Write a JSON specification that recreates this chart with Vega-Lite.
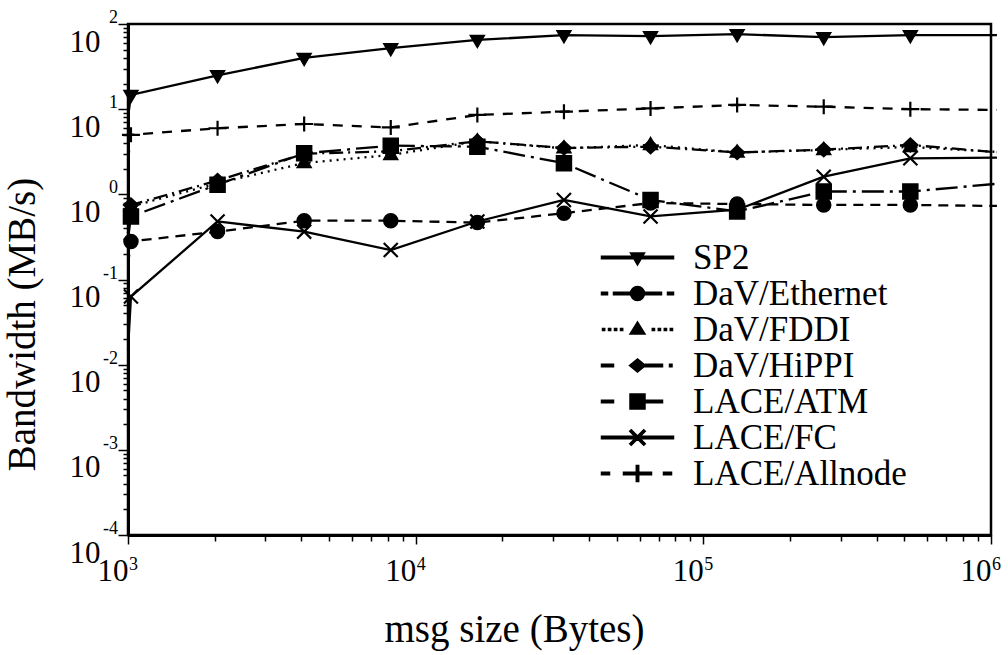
{
  "$schema": "https://vega.github.io/schema/vega-lite/v6.json",
  "width": 863,
  "height": 511,
  "autosize": "none",
  "padding": {"left": 128, "top": 24, "right": 17, "bottom": 120},
  "background": "white",
  "config": {
    "view": {"stroke": "black", "strokeWidth": 2.5},
    "font": "Liberation Serif",
    "axis": {"labelFont": "Liberation Serif", "titleFont": "Liberation Serif", "labelColor": "black", "titleColor": "black", "tickColor": "black", "domainColor": "black", "grid": false, "titleFontWeight": "normal"},
    "line": {"clip": true, "color": "black", "strokeWidth": 2.3},
    "point": {"filled": true, "fill": "black", "stroke": "black", "strokeWidth": 1.5, "size": 4, "opacity": 1}
  },
  "datasets": {
    "bw": [
      {"series": "SP2", "size": 1000, "bw": 8},
      {"series": "SP2", "size": 1024, "bw": 14.7},
      {"series": "SP2", "size": 2048, "bw": 25},
      {"series": "SP2", "size": 4096, "bw": 40},
      {"series": "SP2", "size": 8192, "bw": 52},
      {"series": "SP2", "size": 16384, "bw": 65},
      {"series": "SP2", "size": 32768, "bw": 74},
      {"series": "SP2", "size": 65536, "bw": 72},
      {"series": "SP2", "size": 131072, "bw": 76},
      {"series": "SP2", "size": 262144, "bw": 70},
      {"series": "SP2", "size": 524288, "bw": 74},
      {"series": "SP2", "size": 1048576, "bw": 74},
      {"series": "DaV/Ethernet", "size": 1000, "bw": 0.15},
      {"series": "DaV/Ethernet", "size": 1024, "bw": 0.28},
      {"series": "DaV/Ethernet", "size": 2048, "bw": 0.365},
      {"series": "DaV/Ethernet", "size": 4096, "bw": 0.49},
      {"series": "DaV/Ethernet", "size": 8192, "bw": 0.49},
      {"series": "DaV/Ethernet", "size": 16384, "bw": 0.466},
      {"series": "DaV/Ethernet", "size": 32768, "bw": 0.6},
      {"series": "DaV/Ethernet", "size": 65536, "bw": 0.79},
      {"series": "DaV/Ethernet", "size": 131072, "bw": 0.77},
      {"series": "DaV/Ethernet", "size": 262144, "bw": 0.75},
      {"series": "DaV/Ethernet", "size": 524288, "bw": 0.75},
      {"series": "DaV/Ethernet", "size": 1048576, "bw": 0.73},
      {"series": "DaV/FDDI", "size": 1000, "bw": 0.35},
      {"series": "DaV/FDDI", "size": 1024, "bw": 0.72},
      {"series": "DaV/FDDI", "size": 2048, "bw": 1.35},
      {"series": "DaV/FDDI", "size": 4096, "bw": 2.33},
      {"series": "DaV/FDDI", "size": 8192, "bw": 2.9},
      {"series": "DaV/FDDI", "size": 16384, "bw": 4.2},
      {"series": "DaV/FDDI", "size": 32768, "bw": 3.47},
      {"series": "DaV/FDDI", "size": 65536, "bw": 3.8},
      {"series": "DaV/FDDI", "size": 131072, "bw": 3.1},
      {"series": "DaV/FDDI", "size": 262144, "bw": 3.32},
      {"series": "DaV/FDDI", "size": 524288, "bw": 3.6},
      {"series": "DaV/FDDI", "size": 1048576, "bw": 3.15},
      {"series": "DaV/HiPPI", "size": 1000, "bw": 0.35},
      {"series": "DaV/HiPPI", "size": 1024, "bw": 0.75},
      {"series": "DaV/HiPPI", "size": 2048, "bw": 1.45},
      {"series": "DaV/HiPPI", "size": 4096, "bw": 3.0},
      {"series": "DaV/HiPPI", "size": 8192, "bw": 3.2},
      {"series": "DaV/HiPPI", "size": 16384, "bw": 4.2},
      {"series": "DaV/HiPPI", "size": 32768, "bw": 3.5},
      {"series": "DaV/HiPPI", "size": 65536, "bw": 3.63},
      {"series": "DaV/HiPPI", "size": 131072, "bw": 3.1},
      {"series": "DaV/HiPPI", "size": 262144, "bw": 3.35},
      {"series": "DaV/HiPPI", "size": 524288, "bw": 3.8},
      {"series": "DaV/HiPPI", "size": 1048576, "bw": 3.12},
      {"series": "LACE/ATM", "size": 1000, "bw": 0.3},
      {"series": "LACE/ATM", "size": 1024, "bw": 0.55},
      {"series": "LACE/ATM", "size": 2048, "bw": 1.3},
      {"series": "LACE/ATM", "size": 4096, "bw": 3.03},
      {"series": "LACE/ATM", "size": 8192, "bw": 3.73},
      {"series": "LACE/ATM", "size": 16384, "bw": 3.63},
      {"series": "LACE/ATM", "size": 32768, "bw": 2.32},
      {"series": "LACE/ATM", "size": 65536, "bw": 0.86},
      {"series": "LACE/ATM", "size": 131072, "bw": 0.63},
      {"series": "LACE/ATM", "size": 262144, "bw": 1.08},
      {"series": "LACE/ATM", "size": 524288, "bw": 1.08},
      {"series": "LACE/ATM", "size": 1048576, "bw": 1.33},
      {"series": "LACE/FC", "size": 1000, "bw": 0.015},
      {"series": "LACE/FC", "size": 1024, "bw": 0.063},
      {"series": "LACE/FC", "size": 2048, "bw": 0.48},
      {"series": "LACE/FC", "size": 4096, "bw": 0.365},
      {"series": "LACE/FC", "size": 8192, "bw": 0.222},
      {"series": "LACE/FC", "size": 16384, "bw": 0.48},
      {"series": "LACE/FC", "size": 32768, "bw": 0.86},
      {"series": "LACE/FC", "size": 65536, "bw": 0.55},
      {"series": "LACE/FC", "size": 131072, "bw": 0.66},
      {"series": "LACE/FC", "size": 262144, "bw": 1.61},
      {"series": "LACE/FC", "size": 524288, "bw": 2.65},
      {"series": "LACE/FC", "size": 1048576, "bw": 2.7},
      {"series": "LACE/Allnode", "size": 1000, "bw": 2.5},
      {"series": "LACE/Allnode", "size": 1024, "bw": 5.0},
      {"series": "LACE/Allnode", "size": 2048, "bw": 5.97},
      {"series": "LACE/Allnode", "size": 4096, "bw": 6.7},
      {"series": "LACE/Allnode", "size": 8192, "bw": 6.1},
      {"series": "LACE/Allnode", "size": 16384, "bw": 8.55},
      {"series": "LACE/Allnode", "size": 32768, "bw": 9.35},
      {"series": "LACE/Allnode", "size": 65536, "bw": 10.2},
      {"series": "LACE/Allnode", "size": 131072, "bw": 11.2},
      {"series": "LACE/Allnode", "size": 262144, "bw": 10.7},
      {"series": "LACE/Allnode", "size": 524288, "bw": 10.0},
      {"series": "LACE/Allnode", "size": 1048576, "bw": 9.8}
    ],
    "yexp": [
      {"v": 100, "e": "2"}, {"v": 10, "e": "1"}, {"v": 1, "e": "0"}, {"v": 0.1, "e": "-1"},
      {"v": 0.01, "e": "-2"}, {"v": 0.001, "e": "-3"}, {"v": 0.0001, "e": "-4"}
    ],
    "xexp": [
      {"v": 1000, "e": "3"}, {"v": 10000, "e": "4"}, {"v": 100000, "e": "5"}, {"v": 1000000, "e": "6"}
    ]
  },
  "layer": [
    {
      "data": {"name": "bw"},
      "transform": [{"filter": "datum.series === 'SP2'"}],
      "mark": {"type": "line"},
      "encoding": {
        "x": {
          "field": "size", "type": "quantitative",
          "scale": {"type": "log", "domain": [1000, 1000000], "nice": false},
          "axis": {
            "values": [1000,2000,3000,4000,5000,6000,7000,8000,9000,10000,20000,30000,40000,50000,60000,70000,80000,90000,100000,200000,300000,400000,500000,600000,700000,800000,900000,1000000],
            "labelExpr": "abs(log(datum.value)/LN10 - round(log(datum.value)/LN10)) < 1e-6 ? '10' : ''",
            "labelAlign": "right", "labelBaseline": "top", "labelFontSize": 31, "labelPadding": 12,
            "labelOverlap": false, "labelFlush": false, "labelBound": false,
            "tickSize": {"condition": {"test": "abs(log(datum.value)/LN10 - round(log(datum.value)/LN10)) < 1e-6", "value": 9}, "value": 6},
            "tickWidth": 1.5, "domainWidth": 3,
            "title": "msg size (Bytes)", "titleFontSize": 39, "titleBaseline": "alphabetic", "titleY": 106, "titleX": 386, "titleAlign": "center"
          }
        },
        "y": {
          "field": "bw", "type": "quantitative",
          "scale": {"type": "log", "domain": [0.0001, 100], "nice": false},
          "axis": {
            "values": [0.0001,0.0002,0.0003,0.0004,0.0005,0.0006,0.0007,0.0008,0.0009,0.001,0.002,0.003,0.004,0.005,0.006,0.007,0.008,0.009,0.01,0.02,0.03,0.04,0.05,0.06,0.07,0.08,0.09,0.1,0.2,0.3,0.4,0.5,0.6,0.7,0.8,0.9,1,2,3,4,5,6,7,8,9,10,20,30,40,50,60,70,80,90,100],
            "labelExpr": "abs(log(datum.value)/LN10 - round(log(datum.value)/LN10)) < 1e-6 ? '10' : ''",
            "labelBaseline": "middle", "labelOffset": 18, "labelFontSize": 31, "labelPadding": 18,
            "labelOverlap": false, "labelFlush": false, "labelBound": false,
            "tickSize": {"condition": {"test": "abs(log(datum.value)/LN10 - round(log(datum.value)/LN10)) < 1e-6", "value": 10}, "value": 5},
            "tickWidth": 1.5, "domainWidth": 3,
            "title": "Bandwidth (MB/s)", "titleFontSize": 39, "titleX": -94, "titleY": 300, "titleBaseline": "alphabetic", "titleAlign": "center"
          }
        }
      }
    },
    {
      "data": {"name": "bw"},
      "transform": [{"filter": "datum.series === 'DaV/Ethernet'"}],
      "mark": {"type": "line", "strokeDash": [10, 7]},
      "encoding": {"x": {"field": "size", "type": "quantitative"}, "y": {"field": "bw", "type": "quantitative"}}
    },
    {
      "data": {"name": "bw"},
      "transform": [{"filter": "datum.series === 'DaV/FDDI'"}],
      "mark": {"type": "line", "strokeDash": [2, 5]},
      "encoding": {"x": {"field": "size", "type": "quantitative"}, "y": {"field": "bw", "type": "quantitative"}}
    },
    {
      "data": {"name": "bw"},
      "transform": [{"filter": "datum.series === 'DaV/HiPPI'"}],
      "mark": {"type": "line", "strokeDash": [14, 5, 2, 5]},
      "encoding": {"x": {"field": "size", "type": "quantitative"}, "y": {"field": "bw", "type": "quantitative"}}
    },
    {
      "data": {"name": "bw"},
      "transform": [{"filter": "datum.series === 'LACE/ATM'"}],
      "mark": {"type": "line", "strokeDash": [22, 6, 3, 6]},
      "encoding": {"x": {"field": "size", "type": "quantitative"}, "y": {"field": "bw", "type": "quantitative"}}
    },
    {
      "data": {"name": "bw"},
      "transform": [{"filter": "datum.series === 'LACE/FC'"}],
      "mark": {"type": "line"},
      "encoding": {"x": {"field": "size", "type": "quantitative"}, "y": {"field": "bw", "type": "quantitative"}}
    },
    {
      "data": {"name": "bw"},
      "transform": [{"filter": "datum.series === 'LACE/Allnode'"}],
      "mark": {"type": "line", "strokeDash": [10, 9]},
      "encoding": {"x": {"field": "size", "type": "quantitative"}, "y": {"field": "bw", "type": "quantitative"}}
    },
    {
      "data": {"name": "bw"},
      "transform": [{"filter": "datum.series === 'SP2' && datum.size >= 1024 && datum.size <= 1000000"}],
      "mark": {"type": "point", "shape": "M-7,-4.5H7L0,7.5Z"},
      "encoding": {"x": {"field": "size", "type": "quantitative"}, "y": {"field": "bw", "type": "quantitative"}}
    },
    {
      "data": {"name": "bw"},
      "transform": [{"filter": "datum.series === 'DaV/Ethernet' && datum.size >= 1024 && datum.size <= 1000000"}],
      "mark": {"type": "point", "shape": "M-7,0A7,7,0,1,0,7,0A7,7,0,1,0,-7,0Z"},
      "encoding": {"x": {"field": "size", "type": "quantitative"}, "y": {"field": "bw", "type": "quantitative"}}
    },
    {
      "data": {"name": "bw"},
      "transform": [{"filter": "datum.series === 'DaV/FDDI' && datum.size >= 1024 && datum.size <= 1000000"}],
      "mark": {"type": "point", "shape": "M-7,4.5H7L0,-7.5Z"},
      "encoding": {"x": {"field": "size", "type": "quantitative"}, "y": {"field": "bw", "type": "quantitative"}}
    },
    {
      "data": {"name": "bw"},
      "transform": [{"filter": "datum.series === 'DaV/HiPPI' && datum.size >= 1024 && datum.size <= 1000000"}],
      "mark": {"type": "point", "shape": "M-7.5,0L0,-7L7.5,0L0,7Z"},
      "encoding": {"x": {"field": "size", "type": "quantitative"}, "y": {"field": "bw", "type": "quantitative"}}
    },
    {
      "data": {"name": "bw"},
      "transform": [{"filter": "datum.series === 'LACE/ATM' && datum.size >= 1024 && datum.size <= 1000000"}],
      "mark": {"type": "point", "shape": "M-7.5,-7.5H7.5V7.5H-7.5Z"},
      "encoding": {"x": {"field": "size", "type": "quantitative"}, "y": {"field": "bw", "type": "quantitative"}}
    },
    {
      "data": {"name": "bw"},
      "transform": [{"filter": "datum.series === 'LACE/FC' && datum.size >= 1024 && datum.size <= 1000000"}],
      "mark": {"type": "point", "shape": "M-7,-7L7,7M-7,7L7,-7", "strokeWidth": 2.2},
      "encoding": {"x": {"field": "size", "type": "quantitative"}, "y": {"field": "bw", "type": "quantitative"}}
    },
    {
      "data": {"name": "bw"},
      "transform": [{"filter": "datum.series === 'LACE/Allnode' && datum.size >= 1024 && datum.size <= 1000000"}],
      "mark": {"type": "point", "shape": "M-9,0H9M0,-7.5V7.5", "strokeWidth": 2.2},
      "encoding": {"x": {"field": "size", "type": "quantitative"}, "y": {"field": "bw", "type": "quantitative"}}
    },
    {
      "data": {"name": "bw"},
      "transform": [{"filter": "datum.size < 1000"}],
      "mark": {"type": "point", "filled": true, "fill": "black", "stroke": "black", "strokeWidth": 1},
      "encoding": {
        "x": {"field": "size", "type": "quantitative"},
        "y": {"field": "bw", "type": "quantitative"},
        "shape": {
          "field": "series", "type": "nominal",
          "scale": {
            "domain": ["SP2", "DaV/Ethernet", "DaV/FDDI", "DaV/HiPPI", "LACE/ATM", "LACE/FC", "LACE/Allnode"],
            "range": [
              "M-36,-1.2H36V1.2H-36ZM-7,-4.5H7L0,7.5Z",
              "M-36,-1.2H-30V1.2H-36ZM-24,-1.2H-7V1.2H-24ZM7,-1.2H24V1.2H7ZM30,-1.2H36V1.2H30ZM-7,0A7,7,0,1,1,7,0A7,7,0,1,1,-7,0Z",
              "M-35,-1.1H-32.8V1.1H-35ZM-29,-1.1H-26.8V1.1H-29ZM-23,-1.1H-20.8V1.1H-23ZM-17,-1.1H-14.8V1.1H-17ZM-7.5,4.5H7.5L0,-7.5ZM14.8,-1.1H17V1.1H14.8ZM20.8,-1.1H23V1.1H20.8ZM26.8,-1.1H29V1.1H26.8ZM32.8,-1.1H35V1.1H32.8Z",
              "M-36,-1.2H-24V1.2H-36ZM-8,0L0,-6.5L8,0L0,6.5ZM8,-1.2H25V1.2H8ZM32,-1.2H34.5V1.2H32Z",
              "M-36,-1.2H-24V1.2H-36ZM-7.5,-7.5H7.5V7.5H-7.5ZM7.5,-1.2H25V1.2H7.5Z",
              "M-36,-1.2H36V1.2H-36ZM-6.22,-7.78L7.78,6.22L6.22,7.78L-7.78,-6.22ZM-7.78,6.22L6.22,-7.78L7.78,-6.22L-6.22,7.78Z",
              "M-36,-1.2H-28V1.2H-36ZM-14,-1.2H14V1.2H-14ZM-1.2,-8H1.2V8H-1.2ZM26,-1.2H34V1.2H26Z"
            ]
          },
          "legend": {
            "title": null, "orient": "none", "legendX": 457, "legendY": 216, "direction": "vertical",
            "labelFont": "Liberation Serif", "labelFontSize": 35, "labelColor": "black", "labelLimit": 400,
            "labelOffset": 38, "symbolOffset": 35, "symbolSize": 4, "rowPadding": -3, "padding": 0,
            "symbolStrokeWidth": 1, "symbolOpacity": 1
          }
        }
      }
    },
    {
      "data": {"name": "yexp"},
      "mark": {"type": "text", "align": "right", "baseline": "middle", "dx": -10, "dy": -6, "fontSize": 18, "font": "Liberation Serif", "color": "black"},
      "encoding": {
        "x": {"datum": 1000, "type": "quantitative"},
        "y": {"field": "v", "type": "quantitative"},
        "text": {"field": "e", "type": "nominal"}
      }
    },
    {
      "data": {"name": "xexp"},
      "mark": {"type": "text", "align": "left", "baseline": "middle", "dx": 1, "dy": 30, "fontSize": 18, "font": "Liberation Serif", "color": "black"},
      "encoding": {
        "x": {"field": "v", "type": "quantitative"},
        "y": {"datum": 0.0001, "type": "quantitative"},
        "text": {"field": "e", "type": "nominal"}
      }
    }
  ]
}
